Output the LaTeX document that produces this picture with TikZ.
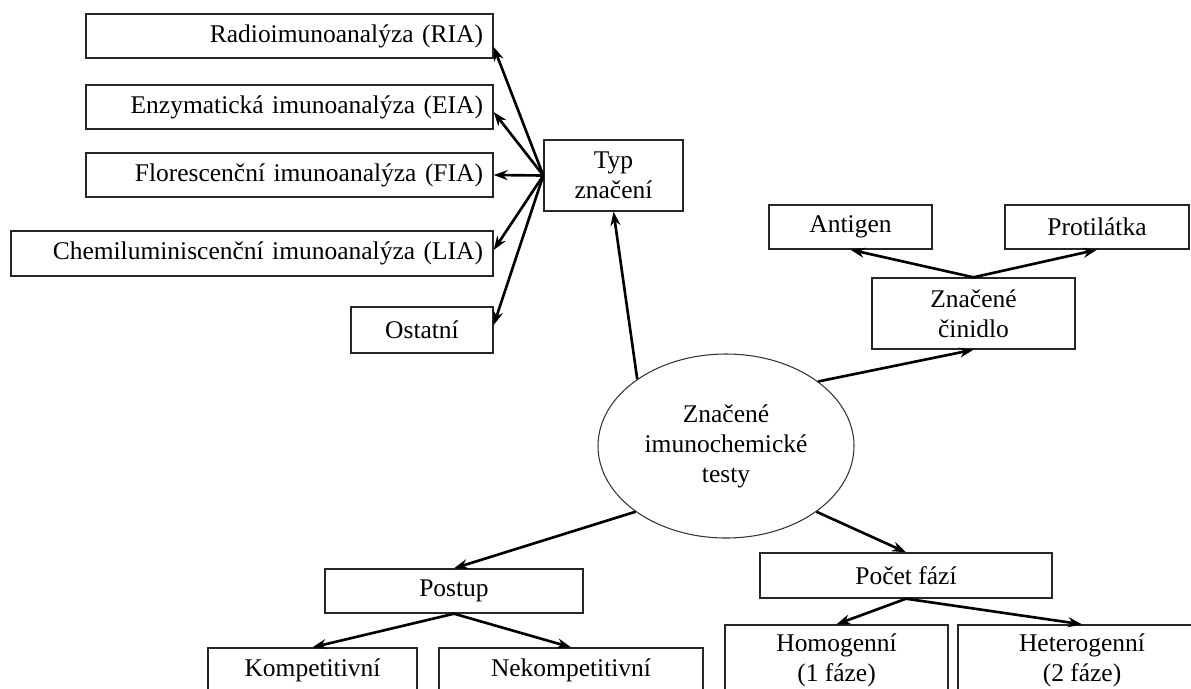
\documentclass[tikz,border=0pt]{standalone}
\usepackage{fontspec}
\setmainfont{Liberation Serif}
\usetikzlibrary{arrows.meta,shapes.geometric}

\begin{document}
\begin{tikzpicture}[
        box/.style = {rectangle, draw=black!85, line width=0.8pt, minimum height=0.88cm, inner sep=0pt, align=center, font=\fontsize{14.5pt}{17pt}\selectfont},
        tallbox/.style = {box, minimum height=1.42cm},
        leftbox/.style = {box, text width=#1, align=right},
        oval/.style = {ellipse, draw=black!80, line width=0.6pt, inner sep=0pt, minimum width=5.12cm, minimum height=3.68cm, align=center, font=\fontsize{14.5pt}{17pt}\selectfont},
        arrow/.style = {line width=1.5pt, ->, >={Stealth[length=2.8mm, width=2mm]}}
    ]
    \useasboundingbox (0,0) rectangle (23.82,-13.76);
    \clip (0,0) rectangle (23.82,-13.76);

    % ================= TYP ZNAČENÍ =================
    \node[leftbox=7.74cm, minimum width=8.14cm] (ria) at (5.79, -0.72) {Radioimunoanalýza (RIA)};
    \node[leftbox=7.74cm, minimum width=8.14cm] (eia) at (5.79, -2.14) {Enzymatická imunoanalýza (EIA)};
    \node[leftbox=7.74cm, minimum width=8.14cm] (fia) at (5.79, -3.50) {Florescenční imunoanalýza (FIA)};
    \node[leftbox=9.24cm, minimum width=9.64cm, minimum height=0.9cm] (lia) at (5.04, -5.07) {Chemiluminiscenční imunoanalýza (LIA)};
    \node[box, minimum width=2.84cm, minimum height=0.92cm] (ost) at (8.44, -6.60) {Ostatní};
    \node[tallbox, minimum width=2.78cm] (typ) at (12.27, -3.51) {Typ\\značení};
    %
    \draw[arrow] (typ.west) -- ([yshift=-2.2mm]ria.east);
    \draw[arrow] (typ.west) -- ([yshift=-1mm]eia.east);
    \draw[arrow] (typ.west) -- (fia.east);
    \draw[arrow] (typ.west) -- ([yshift=0.7mm]lia.east);
    \draw[arrow] (typ.west) -- ([yshift=1mm]ost.east);

    % ================= STŘED =================
    \node[oval] (test) at (14.52, -8.92) {Značené\\imunochemické\\testy};
    \draw[arrow] (test.143) -- (typ.south);

    % ================= ZNAČENÉ ČINIDLO =================
    \node[box, minimum width=3.26cm] (antigen) at (17.01, -4.54) {Antigen};
    \node[box, minimum width=3.68cm] (protil) at (21.94, -4.54) {Protilátka};
    \node[tallbox, minimum width=4.06cm] (cin) at (19.47, -6.27) {Značené\\činidlo};
    %
    \draw[arrow] (test.35) -- (cin.south);
    \draw[arrow] (cin.north) -- (antigen.south);
    \draw[arrow] (cin.north) -- (protil.south);

    % ================= POSTUP =================
    \node[box, minimum width=5.16cm] (postup) at (9.08, -11.82) {Postup};
    \node[box, minimum width=4.18cm] (komp) at (6.25, -13.40) {Kompetitivní};
    \node[box, minimum width=5.28cm] (nekomp) at (11.42, -13.40) {Nekompetitivní};
    %
    \draw[arrow] (test.216) -- (postup.north);
    \draw[arrow] (postup.south) -- (komp.north);
    \draw[arrow] (postup.south) -- (nekomp.north);

    % ================= POČET FÁZÍ =================
    \node[box, minimum width=5.84cm, minimum height=0.9cm] (pocet) at (18.12, -11.51) {Počet fází};
    \node[tallbox, minimum width=4.46cm] (homog) at (16.73, -13.21) {Homogenní\\(1 fáze)};
    \node[tallbox, minimum width=4.96cm] (heterog) at (21.64, -13.21) {Heterogenní\\(2 fáze)};
    %
    \draw[arrow] (test.-36) -- (pocet.north);
    \draw[arrow] (pocet.south) -- (homog.north);
    \draw[arrow] (pocet.south) -- (heterog.north);

\end{tikzpicture}
\end{document}
